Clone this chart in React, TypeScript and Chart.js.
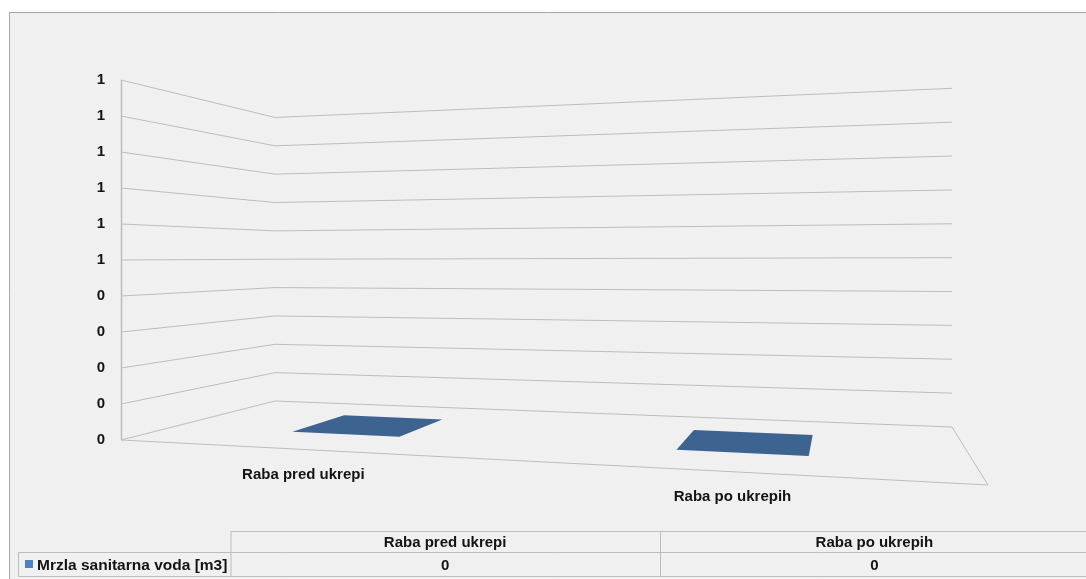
import { useEffect, useRef } from 'react';
import { Chart, registerables } from 'chart.js';

Chart.register(...registerables);

// ---- data ----
const categories = ['Raba pred ukrepi', 'Raba po ukrepih'];
const seriesName = 'Mrzla sanitarna voda [m3]';
const seriesValues = [0, 0];
const yMin = 0;
const yMax = 1;
const yStep = 0.1;

// ---- look ----
const W = 1086;
const H = 579;
const FONT = '"Liberation Sans", Arial, sans-serif';
const TEXT = '#141414';
const GRID = '#bdbdbd';
const FRAME = '#a6a6a6';
const PANEL = '#f0f0f0';
const BAR_FRONT = '#4f81bd';
const BAR_SIDE = '#385d8a';
const BAR_TOP = '#3d6491';
const TABLE_LINE = '#bcbcbc';

// depth slot used by the single series (fraction of floor depth)
const DEPTH_FRONT = 0.3;
const DEPTH_BACK = 0.7;

type Pt = [number, number];

// Projective map of the unit square (u along categories, v into depth) onto a quad.
function squareToQuad(p0: Pt, p1: Pt, p2: Pt, p3: Pt) {
  const [x0, y0] = p0, [x1, y1] = p1, [x2, y2] = p2, [x3, y3] = p3;
  const sx = x0 - x1 + x2 - x3;
  const sy = y0 - y1 + y2 - y3;
  const dx1 = x1 - x2, dx2 = x3 - x2, dy1 = y1 - y2, dy2 = y3 - y2;
  const den = dx1 * dy2 - dx2 * dy1;
  const g = (sx * dy2 - dx2 * sy) / den;
  const h = (dx1 * sy - sx * dy1) / den;
  const a = x1 - x0 + g * x1, b = x3 - x0 + h * x3, c = x0;
  const d = y1 - y0 + g * y1, e = y3 - y0 + h * y3, f = y0;
  return (u: number, v: number) => {
    const w = g * u + h * v + 1;
    return { x: (a * u + b * v + c) / w, y: (d * u + e * v + f) / w, w };
  };
}

function makeProjector(chart: any) {
  const { left, right, bottom } = chart.chartArea;
  const floor = squareToQuad(
    [left, bottom],
    [right, bottom + 45],
    [right - 36, bottom - 13],
    [left + 154, bottom - 39]
  );
  // h: height in pixels as measured on the front-left edge (the y scale)
  return (u: number, v: number, h: number): Pt => {
    const p = floor(u, v);
    return [p.x, p.y - h / p.w];
  };
}

function poly(ctx: CanvasRenderingContext2D, pts: Pt[], fill: string) {
  ctx.beginPath();
  ctx.moveTo(pts[0][0], pts[0][1]);
  for (let i = 1; i < pts.length; i++) ctx.lineTo(pts[i][0], pts[i][1]);
  ctx.closePath();
  ctx.fillStyle = fill;
  ctx.fill();
}

function line(ctx: CanvasRenderingContext2D, pts: Pt[]) {
  ctx.beginPath();
  ctx.moveTo(pts[0][0], pts[0][1]);
  for (let i = 1; i < pts.length; i++) ctx.lineTo(pts[i][0], pts[i][1]);
  ctx.stroke();
}

const panelPlugin = {
  id: 'panel',
  beforeDraw(chart: any) {
    const ctx = chart.ctx as CanvasRenderingContext2D;
    ctx.save();
    ctx.fillStyle = '#ffffff';
    ctx.fillRect(0, 0, W, H);
    ctx.fillStyle = PANEL;
    ctx.fillRect(9, 12, W, H);
    ctx.strokeStyle = FRAME;
    ctx.lineWidth = 1;
    line(ctx, [[9.5, H], [9.5, 12.5], [W, 12.5]]);
    ctx.restore();
  },
};

const box3dPlugin = {
  id: 'box3d',
  beforeDatasetsDraw(chart: any) {
    const ctx = chart.ctx as CanvasRenderingContext2D;
    const area = chart.chartArea;
    const yScale = chart.scales.y;
    const proj = makeProjector(chart);
    const hOf = (val: number) => area.bottom - yScale.getPixelForValue(val);

    ctx.save();
    ctx.strokeStyle = GRID;
    ctx.lineWidth = 1;

    // side wall + back wall gridlines
    for (const t of yScale.ticks) {
      const h = hOf(t.value);
      line(ctx, [proj(0, 0, h), proj(0, 1, h), proj(1, 1, h)]);
    }
    // floor outline (front and right edges)
    line(ctx, [proj(0, 0, 0), proj(1, 0, 0), proj(1, 1, 0)]);
    // front vertical edge of the value axis
    ctx.lineWidth = 1.5;
    line(ctx, [[area.left + 0.5, area.top], [area.left + 0.5, area.bottom]]);

    // columns
    const meta = chart.getDatasetMeta(0);
    const span = area.right - area.left;
    meta.data.forEach((bar: any, i: number) => {
      const { x, width } = bar.getProps(['x', 'width'], true);
      const val = chart.data.datasets[0].data[i] as number;
      const h = hOf(val);
      const u0 = (x - width / 2 - area.left) / span;
      const u1 = (x + width / 2 - area.left) / span;
      if (h > 0.5) {
        poly(ctx, [proj(u0, DEPTH_FRONT, 0), proj(u1, DEPTH_FRONT, 0), proj(u1, DEPTH_FRONT, h), proj(u0, DEPTH_FRONT, h)], BAR_FRONT);
        poly(ctx, [proj(u1, DEPTH_FRONT, 0), proj(u1, DEPTH_BACK, 0), proj(u1, DEPTH_BACK, h), proj(u1, DEPTH_FRONT, h)], BAR_SIDE);
      }
      poly(ctx, [proj(u0, DEPTH_FRONT, h), proj(u1, DEPTH_FRONT, h), proj(u1, DEPTH_BACK, h), proj(u0, DEPTH_BACK, h)], BAR_TOP);
    });

    // category labels under the floor's front edge
    ctx.fillStyle = TEXT;
    ctx.font = `bold 15px ${FONT}`;
    ctx.textAlign = 'center';
    ctx.textBaseline = 'middle';
    const xScale = chart.scales.x;
    xScale.getLabels().forEach((lab: string, i: number) => {
      const u = (xScale.getPixelForValue(i) - area.left) / span;
      const p = proj(u, 0, 0);
      ctx.fillText(lab, p[0] + 1, p[1] + 25);
    });
    ctx.restore();
    return false;
  },
};

const tablePlugin = {
  id: 'dataTable',
  afterDraw(chart: any) {
    const ctx = chart.ctx as CanvasRenderingContext2D;
    const labels = chart.data.labels as string[];
    const ds = chart.data.datasets[0];
    const xLeg = 18.5, xCol = 230.5, xEnd = 1089;
    const yTop = 531.5, yMid = 552.5, yBot = 576.5;
    const colW = (xEnd - xCol) / labels.length;

    ctx.save();
    ctx.strokeStyle = TABLE_LINE;
    ctx.lineWidth = 1;
    line(ctx, [[xCol, yTop], [xEnd, yTop]]);
    line(ctx, [[xLeg, yMid], [xEnd, yMid]]);
    line(ctx, [[xLeg, yBot], [xEnd, yBot]]);
    line(ctx, [[xLeg, yMid], [xLeg, yBot]]);
    for (let i = 0; i < labels.length; i++) {
      const cx = Math.round(xCol + colW * i) + (i === 0 ? 0 : 0.5);
      line(ctx, [[cx, yTop], [cx, yBot]]);
    }

    ctx.fillStyle = TEXT;
    ctx.font = `bold 15px ${FONT}`;
    ctx.textBaseline = 'middle';
    ctx.textAlign = 'center';
    labels.forEach((lab, i) => {
      const cx = xCol + colW * (i + 0.5);
      ctx.fillText(lab, cx, (yTop + yMid) / 2 + 1);
      ctx.fillText(String(ds.data[i]), cx, (yMid + yBot) / 2 + 1);
    });

    ctx.fillStyle = ds.backgroundColor as string;
    ctx.fillRect(25, 560, 8, 8);
    ctx.fillStyle = TEXT;
    ctx.textAlign = 'left';
    ctx.font = `bold 15.5px ${FONT}`;
    ctx.fillText(ds.label, 37, (yMid + yBot) / 2 + 1);
    ctx.restore();
  },
};

export default function App() {
  const ref = useRef<HTMLCanvasElement>(null);

  useEffect(() => {
    if (!ref.current) return;
    const chart = new Chart(ref.current, {
      type: 'bar',
      data: {
        labels: categories,
        datasets: [
          {
            label: seriesName,
            data: seriesValues,
            backgroundColor: BAR_FRONT,
            categoryPercentage: 0.6,
            barPercentage: 0.5,
          },
        ],
      },
      options: {
        responsive: false,
        animation: false,
        events: [],
        layout: { padding: { top: 80, right: 98, bottom: 139, left: 0 } },
        plugins: { legend: { display: false }, tooltip: { enabled: false } },
        scales: {
          x: { display: false },
          y: {
            min: yMin,
            max: yMax,
            grid: { display: false },
            border: { display: false },
            afterFit(scale: any) {
              scale.width = 121;
            },
            ticks: {
              stepSize: yStep,
              padding: 8,
              color: TEXT,
              font: { family: FONT, size: 15, weight: 'bold' },
              callback: (v: any) => String(Math.round(Number(v))),
            },
          },
        },
      },
      plugins: [panelPlugin, box3dPlugin, tablePlugin],
    });
    return () => chart.destroy();
  }, []);

  return (
    <div style={{ position: 'fixed', left: 0, top: 0, width: W, height: H, background: '#fff' }}>
      <canvas ref={ref} width={W} height={H} style={{ display: 'block' }} />
    </div>
  );
}
